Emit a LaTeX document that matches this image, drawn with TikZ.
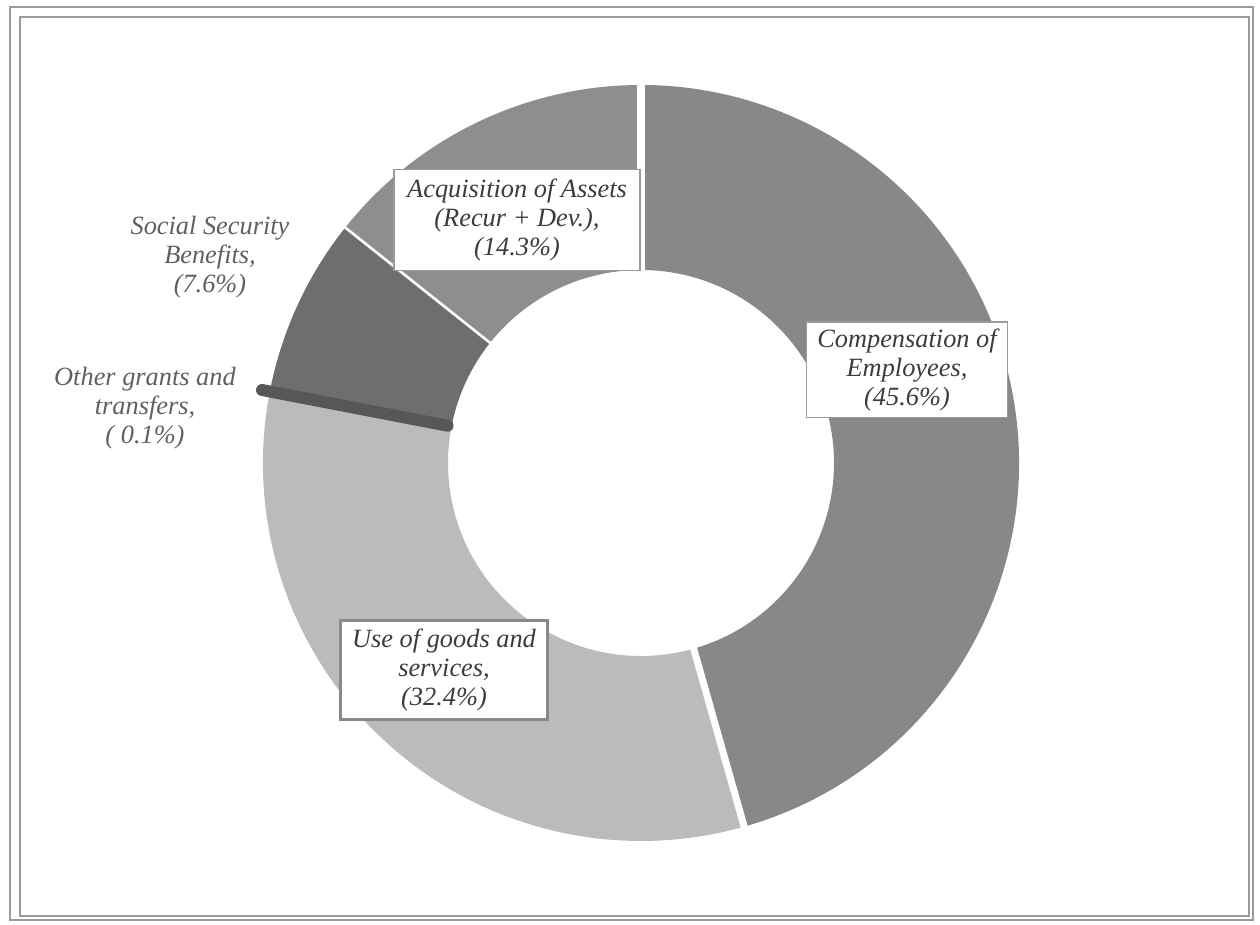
\documentclass[tikz,border=0pt]{standalone}
\usepackage{fontspec}
\setmainfont{Liberation Serif}
\usetikzlibrary{calc}
\definecolor{compcol}{HTML}{888888}
\definecolor{usecol}{HTML}{BBBBBB}
\definecolor{othcol}{HTML}{575757}
\definecolor{soccol}{HTML}{6E6E6E}
\definecolor{acqcol}{HTML}{8E8E8E}
\definecolor{framecol}{HTML}{9A9A9A}
\definecolor{txtcol}{HTML}{3C3C3C}
\definecolor{outtxt}{HTML}{606060}
\newcommand\donutslice[3]{%
  \fill[#3] ($(C)+(#1:193)$) arc[start angle=#1,end angle=#2,radius=193]
    -- ($(C)+(#2:378)$) arc[start angle=#2,end angle=#1,radius=378] -- cycle;}
\tikzset{
  lbl/.style={font=\fontsize{15}{16.6}\selectfont\itshape, text=txtcol, align=center, inner sep=0pt},
  lblbox/.style={lbl, fill=white, draw=framecol, line width=0.6pt},
  outlbl/.style={lbl, text=outtxt},
  sep/.style={white, line width=#1},
}
\begin{document}
\begin{tikzpicture}[x=0.02cm,y=0.02cm]
\useasboundingbox (0,0) rectangle (1260,925);
\fill[white] (0,0) rectangle (1260,925);
% frame
\draw[framecol, line width=1.2pt] (10,5) rectangle (1253,918);
\draw[framecol, line width=0.8pt] (20,9) rectangle (1249,908);
\coordinate (C) at (641,462);
% slices
\donutslice{90}{-74.16}{compcol}
\donutslice{-74.16}{-190.8}{usecol}
\donutslice{-191.16}{-218.52}{soccol}
\donutslice{-218.52}{-270}{acqcol}
% separators
\draw[sep=4pt] ($(C)+(90:188)$) -- ($(C)+(90:384)$);
\draw[sep=4pt] ($(C)+(-74.16:188)$) -- ($(C)+(-74.16:384)$);
\draw[sep=1.5pt] ($(C)+(-218.52:188)$) -- ($(C)+(-218.52:384)$);
% other grants (thin slice)
\coordinate (o1) at ($(C)+(-190.9:197)$);
\coordinate (o2) at ($(C)+(-190.9:386)$);
\draw[othcol, line width=6.8pt, line cap=round] (o1) -- (o2);
% labels
\node[lblbox, minimum width=140pt, minimum height=57pt] (acq) at (517,705)
  {Acquisition of Assets\\(Recur + Dev.),\\(14.3\%)};
\node[lblbox, minimum width=114.4pt, minimum height=54.6pt] (comp) at (907,555)
  {Compensation of\\Employees,\\(45.6\%)};
\node[lblbox, draw=compcol, line width=1.7pt, minimum width=117.3pt, minimum height=55.8pt] (use) at (444,255)
  {Use of goods and\\services,\\(32.4\%)};
\node[outlbl] (soc) at (210,668) {Social Security\\Benefits,\\(7.6\%)};
\node[outlbl] (oth) at (145,517) {Other grants and\\transfers,\\( 0.1\%)};
\end{tikzpicture}
\end{document}
